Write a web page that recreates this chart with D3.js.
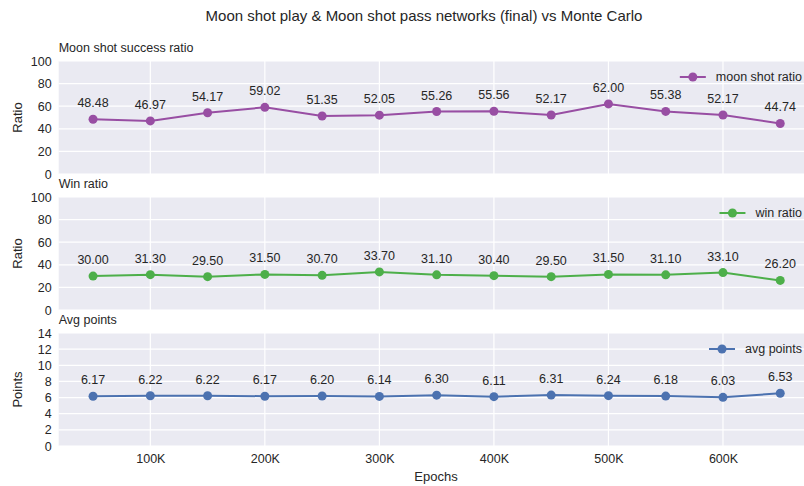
<!DOCTYPE html>
<html>
<head>
<meta charset="utf-8">
<script src="https://cdn.jsdelivr.net/npm/d3@7"></script>
<style>
  body { margin: 0; background: #fff; }
  svg { display: block; font-family: "Liberation Sans", Arial, sans-serif; }
  .tick text { fill: #262626; font-size: 12.5px; }
  .grid line { stroke: #fff; stroke-width: 1.2; }
  .domain { display: none; }
</style>
</head>
<body>
<div id="chart"></div>
<script>
// epochs on the x axis
var epochs = [50000, 100000, 150000, 200000, 250000, 300000, 350000, 400000, 450000, 500000, 550000, 600000, 650000];
var xTicks = [100000, 200000, 300000, 400000, 500000, 600000];

var moonShotRatio = [48.48, 46.97, 54.17, 59.02, 51.35, 52.05, 55.26, 55.56, 52.17, 62.00, 55.38, 52.17, 44.74];
var winRatio = [30.00, 31.30, 29.50, 31.50, 30.70, 33.70, 31.10, 30.40, 29.50, 31.50, 31.10, 33.10, 26.20];
var avgPoints = [6.17, 6.22, 6.22, 6.17, 6.20, 6.14, 6.30, 6.11, 6.31, 6.24, 6.18, 6.03, 6.53];

var ratioTicks = [0, 20, 40, 60, 80, 100];
var pointTicks = [0, 2, 4, 6, 8, 10, 12, 14];

var panels = [
  {title: "Moon shot success ratio", ylabel: "Ratio", legend: "moon shot ratio", values: moonShotRatio, ticks: ratioTicks, color: "#984ea3", top: 61},
  {title: "Win ratio", ylabel: "Ratio", legend: "win ratio", values: winRatio, ticks: ratioTicks, color: "#4daf4a", top: 197},
  {title: "Avg points", ylabel: "Points", legend: "avg points", values: avgPoints, ticks: pointTicks, color: "#4c72b0", top: 333}
];

var W = 804, H = 486;
var left = 58.7, right = 814.6, panelH = 113;

var svg = d3.select("#chart").append("svg")
  .attr("width", W)
  .attr("height", H);

// x scale with matplotlib-like 5% margins
var x = d3.scaleLinear()
  .domain([20000, 680000])
  .range([left, right]);

svg.append("text")
  .attr("x", 424)
  .attr("y", 21)
  .attr("text-anchor", "middle")
  .attr("fill", "#262626")
  .style("font-size", "15px")
  .text("Moon shot play & Moon shot pass networks (final) vs Monte Carlo");

panels.forEach(function(p, i) {
  var yMax = p.ticks[p.ticks.length - 1];
  var y = d3.scaleLinear()
    .domain([0, yMax])
    .range([p.top + panelH, p.top]);

  var g = svg.append("g");

  g.append("rect")
    .attr("x", left)
    .attr("y", p.top)
    .attr("width", right - left)
    .attr("height", panelH)
    .attr("fill", "#eaeaf2");

  // horizontal grid
  g.append("g")
    .attr("class", "grid")
    .selectAll("line")
    .data(p.ticks)
    .enter().append("line")
      .attr("x1", left)
      .attr("x2", right)
      .attr("y1", function(d) { return y(d); })
      .attr("y2", function(d) { return y(d); });

  // vertical grid
  g.append("g")
    .attr("class", "grid")
    .selectAll("line")
    .data(xTicks)
    .enter().append("line")
      .attr("x1", function(d) { return x(d); })
      .attr("x2", function(d) { return x(d); })
      .attr("y1", p.top)
      .attr("y2", p.top + panelH);

  // y axis
  g.append("g")
    .attr("transform", "translate(" + left + ",0)")
    .call(d3.axisLeft(y).tickValues(p.ticks).tickSize(0).tickPadding(7).tickFormat(d3.format("d")));

  // x axis only on the bottom panel
  if (i === panels.length - 1) {
    g.append("g")
      .attr("transform", "translate(0," + (p.top + panelH) + ")")
      .call(d3.axisBottom(x).tickValues(xTicks).tickSize(0).tickPadding(8)
        .tickFormat(function(d) { return (d / 1000) + "K"; }));

    svg.append("text")
      .attr("x", 436)
      .attr("y", 481)
      .attr("text-anchor", "middle")
      .attr("fill", "#262626")
      .style("font-size", "13px")
      .text("Epochs");
  }

  // subplot title
  g.append("text")
    .attr("x", left)
    .attr("y", p.top - 9)
    .attr("fill", "#262626")
    .style("font-size", "12.5px")
    .text(p.title);

  // y label
  g.append("text")
    .attr("transform", "translate(22," + (p.top + panelH / 2) + ") rotate(-90)")
    .attr("text-anchor", "middle")
    .attr("fill", "#262626")
    .style("font-size", "13px")
    .text(p.ylabel);

  var line = d3.line()
    .x(function(d, j) { return x(epochs[j]); })
    .y(function(d) { return y(d); });

  g.append("path")
    .datum(p.values)
    .attr("fill", "none")
    .attr("stroke", p.color)
    .attr("stroke-width", 2)
    .attr("d", line);

  g.selectAll(".dot")
    .data(p.values)
    .enter().append("circle")
      .attr("cx", function(d, j) { return x(epochs[j]); })
      .attr("cy", function(d) { return y(d); })
      .attr("r", 4.5)
      .attr("fill", p.color);

  g.selectAll(".lbl")
    .data(p.values)
    .enter().append("text")
      .attr("x", function(d, j) { return x(epochs[j]); })
      .attr("y", function(d) { return y(d) - 12; })
      .attr("text-anchor", "middle")
      .attr("fill", "#262626")
      .style("font-size", "12.5px")
      .text(function(d) { return d.toFixed(2); });

  // legend, upper right
  var ly = p.top + 16;
  var tx = 802;
  var legText = g.append("text")
    .attr("x", tx)
    .attr("y", ly + 4)
    .attr("text-anchor", "end")
    .attr("fill", "#262626")
    .style("font-size", "12.5px")
    .text(p.legend);
  var tw = legText.node().getComputedTextLength();
  var lx2 = tx - tw - 10, lx1 = lx2 - 26;
  g.append("line")
    .attr("x1", lx1).attr("x2", lx2)
    .attr("y1", ly).attr("y2", ly)
    .attr("stroke", p.color)
    .attr("stroke-width", 2);
  g.append("circle")
    .attr("cx", (lx1 + lx2) / 2)
    .attr("cy", ly)
    .attr("r", 4.5)
    .attr("fill", p.color);
});
</script>
</body>
</html>
